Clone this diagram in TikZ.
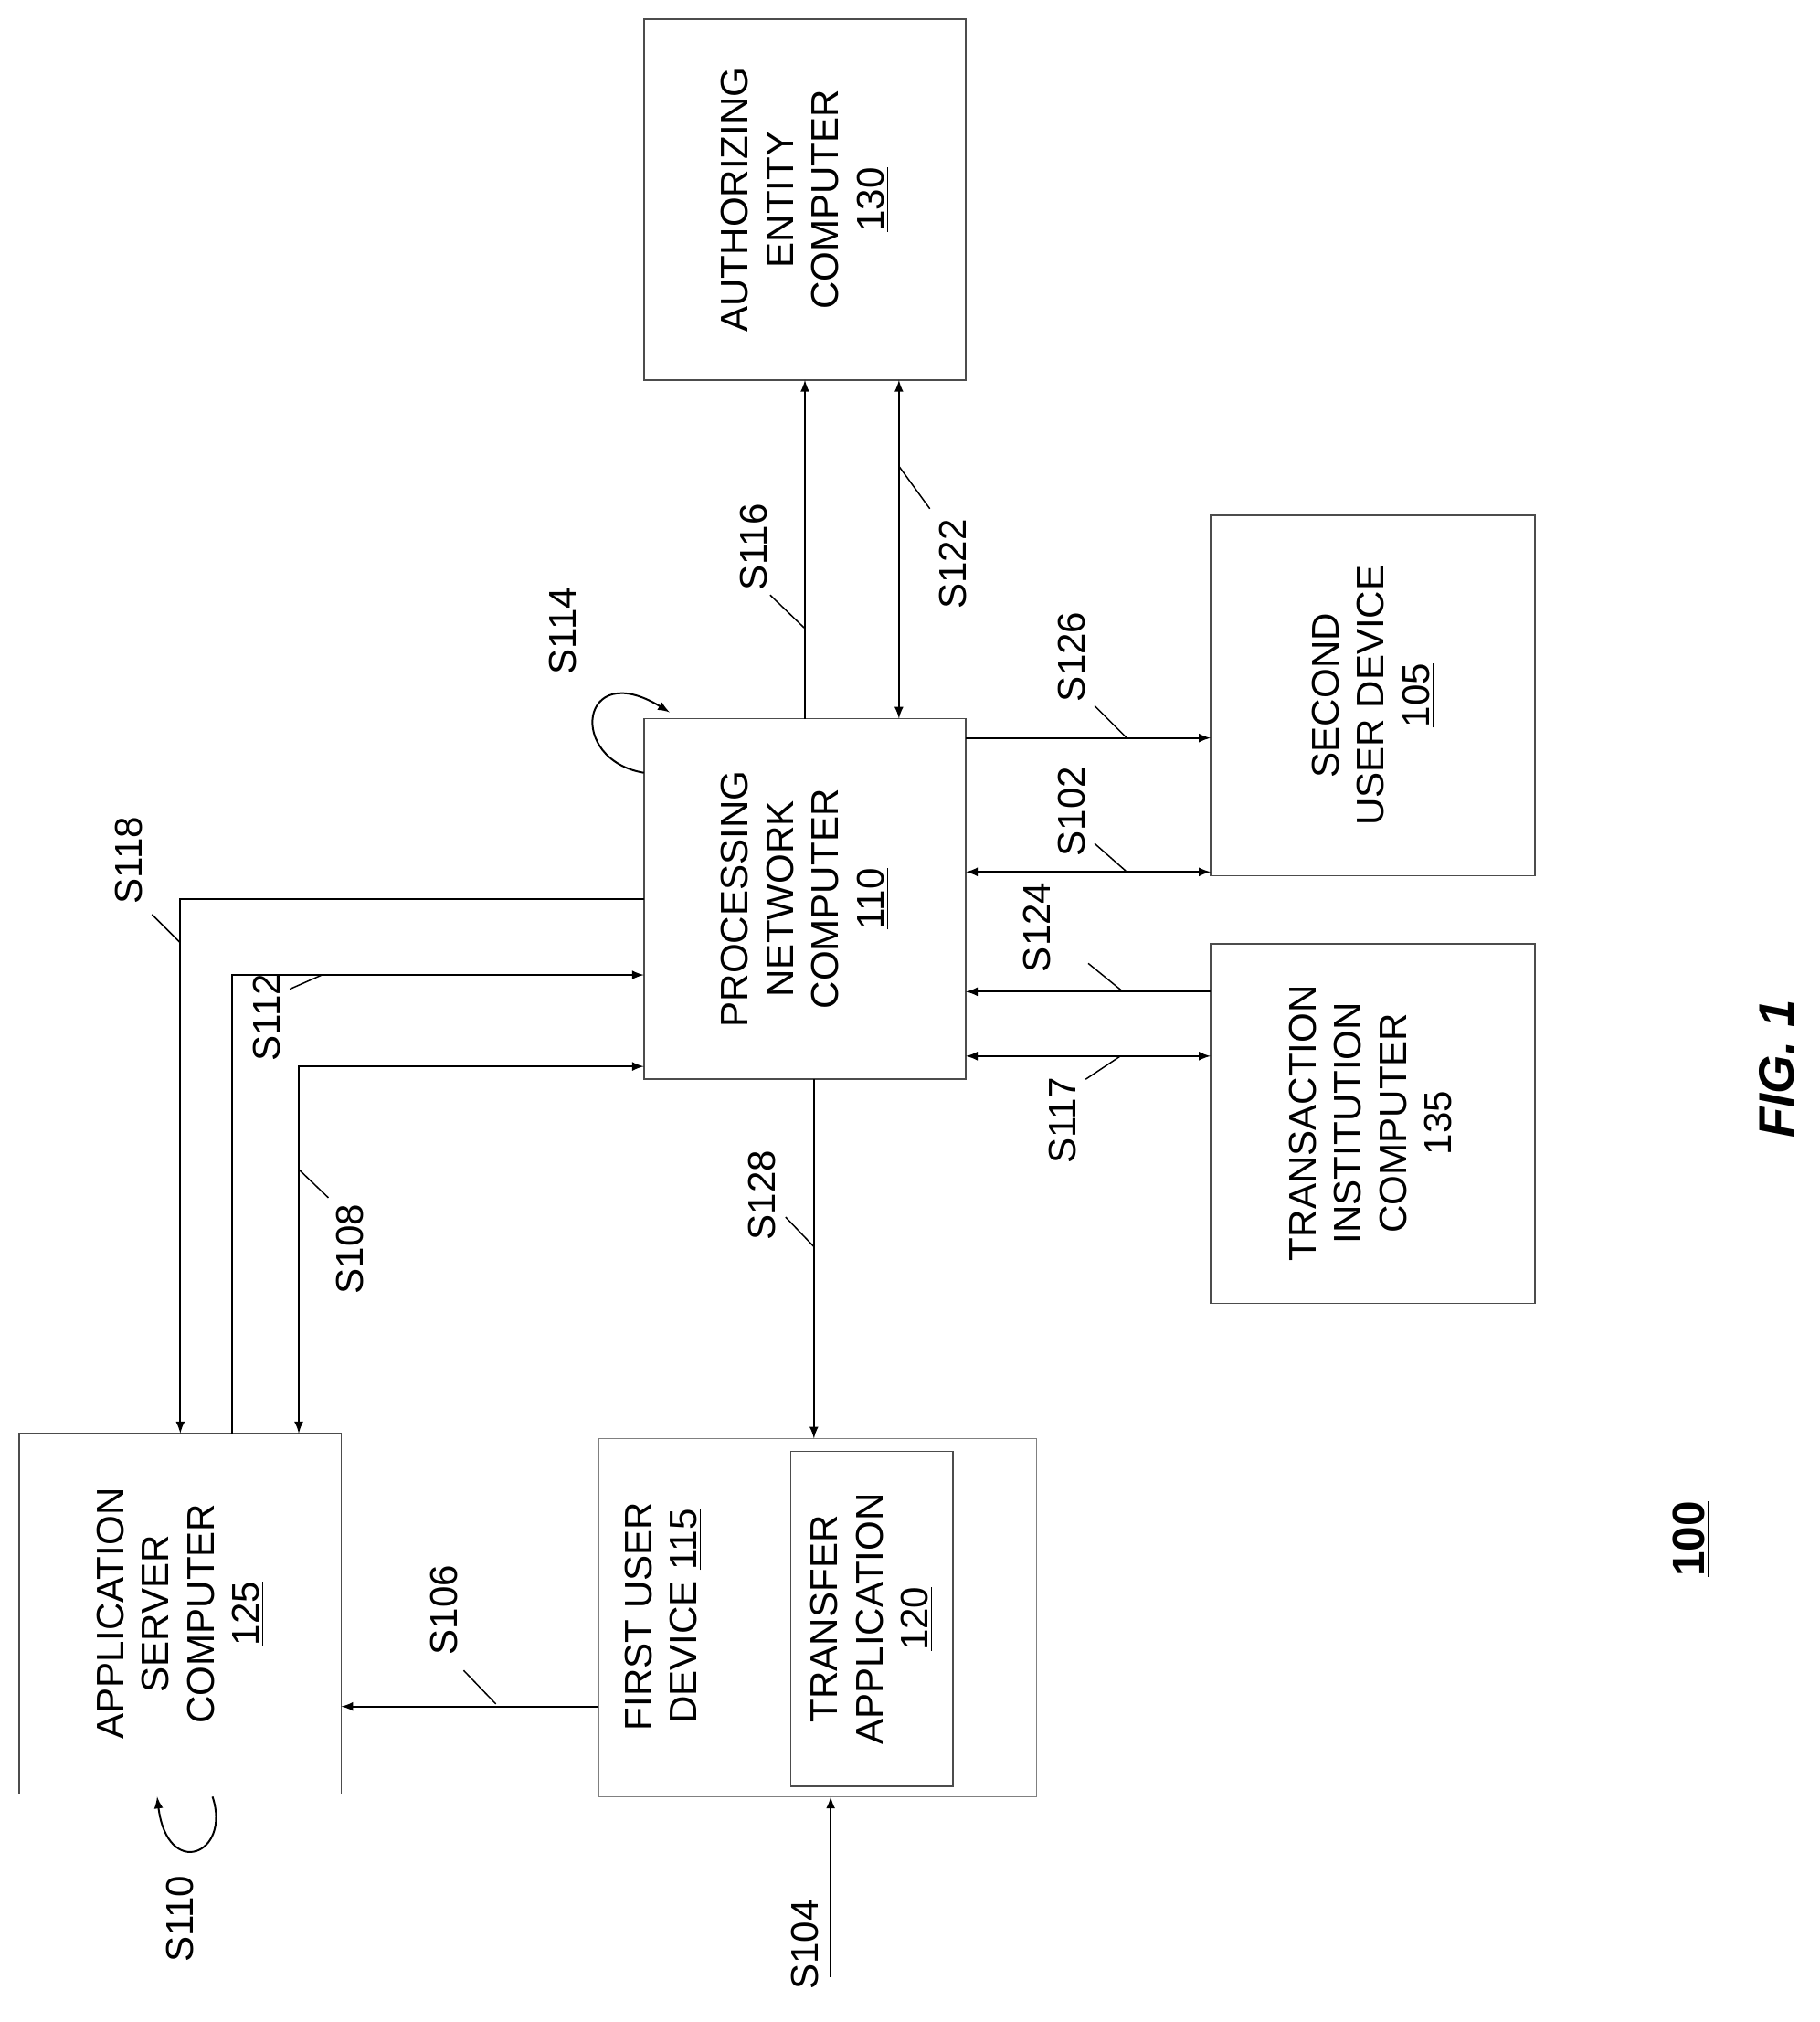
\documentclass[tikz,border=0pt]{standalone}
\usepackage{fontspec}
\setmainfont{Liberation Sans}
\begin{document}
\begin{tikzpicture}[x=0.02cm,y=-0.02cm,
 box/.style={draw=black!70,line width=0.6pt},
 txt/.style={rotate=90,align=center,font=\fontsize{17}{20}\selectfont},
 lab/.style={rotate=90,font=\fontsize{17}{20}\selectfont},
 con/.style={draw,line width=0.8pt,-latex},
 bi/.style={draw,line width=0.8pt,latex-latex},
 tick/.style={draw,line width=0.6pt}]
\useasboundingbox (0,0) rectangle (1413,1570);
% boxes
\draw[box] (500,15) rectangle (750,295); \node[txt] (auth) at (625,155) {AUTHORIZING\\ENTITY\\COMPUTER\\\underline{130}};
\coordinate (authB) at (625,295);
\draw[box] (940,400) rectangle (1192,680); \node[txt] (sec) at (1066,540) {SECOND\\USER DEVICE\\\underline{105}};
\draw[box] (940,733) rectangle (1192,1012); \node[txt] (tra) at (1066,872) {TRANSACTION\\INSTITUTION\\COMPUTER\\\underline{135}};
\draw[box] (500,558) rectangle (750,838); \node[txt] (proc) at (625,698) {PROCESSING\\NETWORK\\COMPUTER\\\underline{110}};
\draw[box] (15,1113) rectangle (265,1393); \node[txt] (app) at (140,1253) {APPLICATION\\SERVER\\COMPUTER\\\underline{125}};
\draw[box,black!50] (465,1117) rectangle (805,1395);
\node[txt,anchor=north] (fud) at (505,1255) {};
\node[txt] (fudt) at (515,1255) {FIRST USER\\DEVICE \underline{115}};
\draw[box] (614,1127) rectangle (740,1387); \node[txt] (tapp) at (677,1257) {TRANSFER\\APPLICATION\\\underline{120}};
% connectors
\coordinate (p1) at (625,558); \coordinate (a1) at (625,295);
\draw[con] (p1) -- (a1);
\coordinate (p2) at (698,558); \coordinate (a2) at (698,295);
\draw[bi] (p2) -- (a2);
\node[lab] (l116) at (585,425) {S116}; \draw[tick] (598,462) -- (625,488);
\node[lab] (l122) at (740,438) {S122}; \draw[tick] (722,395) -- (698,362);
% S114
\coordinate (s114a) at (500,600); \coordinate (s114b) at (520,553);
\draw[con] (s114a) .. controls (440,590) and (450,510) .. (s114b);
\node[lab] (l114) at (437,490) {S114};
% S126
\coordinate (p3) at (750,573); \coordinate (s3) at (940,573);
\draw[con] (p3) -- (s3); \node[lab] (l126) at (832,510) {S126}; \draw[tick] (850,548) -- (875,573);
\coordinate (p4) at (750,677); \coordinate (s4) at (940,677);
\draw[bi] (p4) -- (s4); \node[lab] (l102) at (832,630) {S102}; \draw[tick] (850,655) -- (875,677);
\coordinate (t5) at (940,770); \coordinate (p5) at (750,770);
\draw[con] (t5) -- (p5); \node[lab] (l124) at (805,720) {S124}; \draw[tick] (845,748) -- (872,770);
\coordinate (p6) at (750,820); \coordinate (t6) at (940,820);
\draw[bi] (p6) -- (t6); \node[lab] (l117) at (825,870) {S117}; \draw[tick] (843,838) -- (870,820);
% S128
\coordinate (p7) at (632,838); \coordinate (f7) at (632,1117);
\draw[con] (p7) -- (f7); \node[lab] (l128) at (592,928) {S128}; \draw[tick] (610,945) -- (632,968);
% S118
\coordinate (p8) at (500,698); \coordinate (a8) at (140,1113);
\draw[con] (p8) -- (140,698) -- (a8); \node[lab] (l118) at (100,668) {S118}; \draw[tick] (118,710) -- (140,732);
% S112
\coordinate (a9) at (180,1113); \coordinate (p9) at (500,757);
\draw[con] (a9) -- (180,757) -- (p9); \node[lab] (l112) at (207,790) {S112}; \draw[tick] (225,768) -- (250,757);
% S108
\coordinate (p10) at (500,828); \coordinate (a10) at (232,1113);
\draw[bi] (p10) -- (232,828) -- (a10); \node[lab] (l108) at (272,970) {S108}; \draw[tick] (255,930) -- (232,908);
% S106
\coordinate (f11) at (465,1325); \coordinate (a11) at (265,1325);
\draw[con] (f11) -- (a11); \node[lab] (l106) at (345,1250) {S106}; \draw[tick] (360,1297) -- (385,1323);
% S110
\coordinate (a12) at (165,1395); \coordinate (a12e) at (122,1395);
\draw[con] (a12) .. controls (180,1440) and (130,1460) .. (a12e);
\node[lab] (l110) at (140,1490) {S110};
% S104
\coordinate (s104) at (645,1535); \coordinate (f13) at (645,1395);
\draw[con] (s104) -- (f13); \node[lab] (l104) at (625,1510) {S104};
% figure labels
\node[rotate=90,font=\fontsize{22}{26}\selectfont\bfseries\itshape] (fig) at (1380,830) {FIG. 1};
\node[rotate=90,font=\fontsize{20}{24}\selectfont\bfseries] (num) at (1313,1195) {\underline{100}};
\end{tikzpicture}
\end{document}
